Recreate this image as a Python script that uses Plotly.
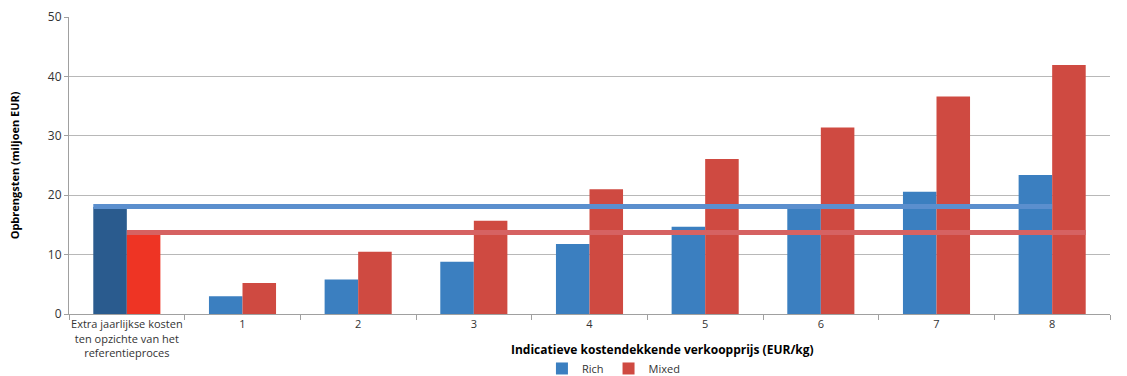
import plotly.graph_objects as go

categories = [
    "Extra jaarlijkse kosten<br>ten opzichte van het<br>referentieproces",
    "1", "2", "3", "4", "5", "6", "7", "8",
]
rich = [18.0, 3.0, 5.8, 8.8, 11.8, 14.7, 17.8, 20.6, 23.4]
mixed = [13.3, 5.2, 10.5, 15.7, 21.0, 26.1, 31.4, 36.6, 41.9]
# break-even levels: the extra yearly cost of each variant
rich_cost_line = 18.1
mixed_cost_line = 13.7

y_ticks = [0, 10, 20, 30, 40, 50]

blue = "#3b7fc0"
blue_dark = "#2a5b8e"
red = "#cf4a41"
red_bright = "#ee3424"

font_family = "Open Sans, DejaVu Sans, sans-serif"

fig = go.Figure()
# reference-process column in its own darker / brighter colours
fig.add_trace(go.Bar(
    x=categories[:1], y=rich[:1], offsetgroup="rich", showlegend=False,
    marker=dict(color=blue_dark, line=dict(width=0)),
))
fig.add_trace(go.Bar(
    x=categories[:1], y=mixed[:1], offsetgroup="mixed", showlegend=False,
    marker=dict(color=red_bright, line=dict(width=0)),
))
fig.add_trace(go.Bar(
    name="Rich", x=categories[1:], y=rich[1:], offsetgroup="rich",
    marker=dict(color=blue, line=dict(width=0)),
))
fig.add_trace(go.Bar(
    name="Mixed", x=categories[1:], y=mixed[1:], offsetgroup="mixed",
    marker=dict(color=red, line=dict(width=0)),
))

# horizontal reference lines on an overlaid numeric axis
n = len(categories)
half = 0.29
fig.add_trace(go.Scatter(
    x=[-half, n - 1], y=[rich_cost_line, rich_cost_line], xaxis="x2",
    mode="lines", line=dict(color="#5b8fce", width=5), showlegend=False, hoverinfo="skip",
))
fig.add_trace(go.Scatter(
    x=[0, n - 1 + half], y=[mixed_cost_line, mixed_cost_line], xaxis="x2",
    mode="lines", line=dict(color="#d66262", width=5), showlegend=False, hoverinfo="skip",
))

fig.update_layout(
    width=1127, height=376,
    margin=dict(l=69, r=17, t=17, b=62, autoexpand=False),
    paper_bgcolor="white", plot_bgcolor="white",
    font=dict(family=font_family, size=11, color="#333333"),
    barmode="group", bargap=0.42, bargroupgap=0,
    showlegend=True,
    legend=dict(
        orientation="h", x=0.523, xanchor="center",
        yref="container", y=0.02, yanchor="middle",
        font=dict(size=11, color="#333333"), itemwidth=30, traceorder="normal",
        tracegroupgap=0,
    ),
    xaxis=dict(
        type="category", categoryorder="array", categoryarray=categories,
        tickson="boundaries", ticks="outside", ticklen=5, tickangle=0,
        tickcolor="#a0a0a0", showline=True, linecolor="#a0a0a0", linewidth=1,
        showgrid=False, tickfont=dict(size=11, color="#333333"), automargin=False,
    ),
    xaxis2=dict(
        overlaying="x", range=[-0.5, n - 0.5], visible=False,
    ),
    yaxis=dict(
        range=[0, 50], tickvals=y_ticks, showgrid=True, gridcolor="#b8b8b8",
        gridwidth=1, showline=True, linecolor="#a0a0a0", ticks="outside",
        ticklen=4, tickcolor="#a0a0a0", zeroline=False, automargin=False,
        tickfont=dict(size=12, color="#333333"),
    ),
    annotations=[
        dict(
            text="<b>Opbrengsten (miljoen EUR)</b>", textangle=-90,
            xref="paper", yref="paper", x=-0.052, y=0.5,
            xanchor="center", yanchor="middle", showarrow=False,
            font=dict(size=11, color="#000000"),
        ),
        dict(
            text="<b>Indicatieve kostendekkende verkoopprijs (EUR/kg)</b>",
            xref="paper", yref="paper", x=0.57, y=-0.083,
            xanchor="center", yanchor="top", showarrow=False,
            font=dict(size=12, color="#000000"),
        ),
    ],
)

fig.write_html("out.html")
